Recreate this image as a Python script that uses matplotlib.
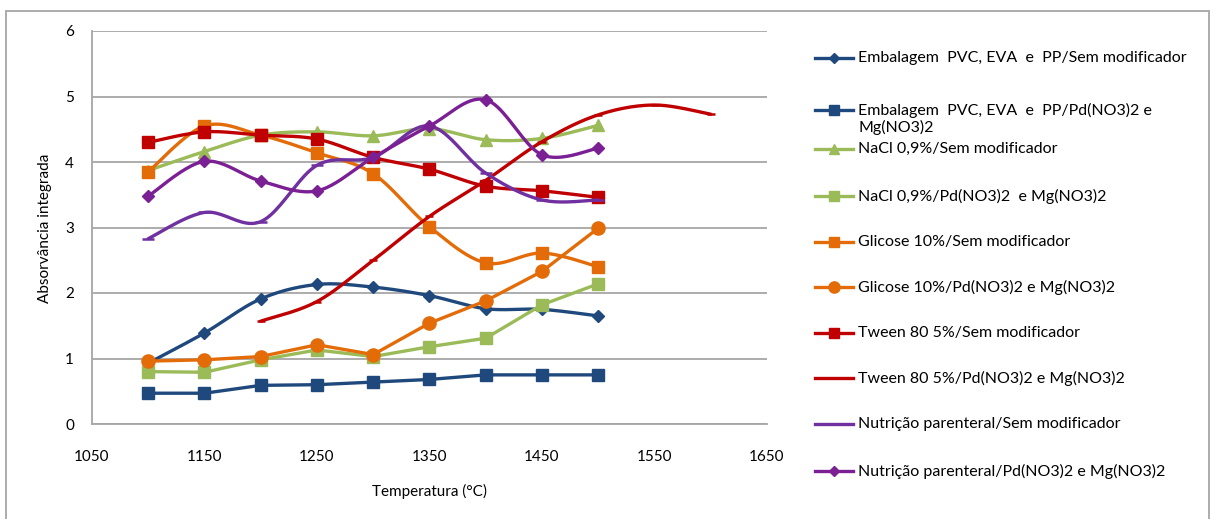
import numpy as np
import matplotlib.pyplot as plt
from matplotlib.lines import Line2D
from matplotlib.patches import Rectangle

plt.rcParams['font.family'] = ['Lato', 'DejaVu Sans']

temps = [1100, 1150, 1200, 1250, 1300, 1350, 1400, 1450, 1500]
temps_tween_pd = [1200, 1250, 1300, 1350, 1400, 1450, 1500, 1550, 1600]

emb_sem = [0.93, 1.39, 1.91, 2.13, 2.09, 1.96, 1.76, 1.75, 1.65]
emb_pd = [0.47, 0.47, 0.59, 0.60, 0.64, 0.68, 0.75, 0.75, 0.75]
nacl_sem = [3.87, 4.16, 4.41, 4.46, 4.40, 4.51, 4.34, 4.36, 4.56]
nacl_pd = [0.80, 0.79, 0.98, 1.13, 1.03, 1.18, 1.31, 1.82, 2.14]
glic_sem = [3.85, 4.55, 4.41, 4.14, 3.82, 3.01, 2.46, 2.61, 2.40]
glic_pd = [0.96, 0.98, 1.03, 1.21, 1.06, 1.54, 1.88, 2.33, 2.99]
tween_sem = [4.30, 4.46, 4.41, 4.35, 4.07, 3.89, 3.63, 3.56, 3.46]
tween_pd = [1.57, 1.87, 2.50, 3.17, 3.72, 4.31, 4.72, 4.87, 4.73]
nutri_sem = [2.83, 3.23, 3.09, 3.95, 4.07, 4.55, 3.83, 3.42, 3.42]
nutri_pd = [3.48, 4.01, 3.71, 3.56, 4.07, 4.55, 4.95, 4.11, 4.21]

labels = [
    'Embalagem  PVC, EVA  e  PP/Sem modificador',
    'Embalagem  PVC, EVA  e  PP/Pd(NO3)2 e\nMg(NO3)2',
    'NaCl 0,9%/Sem modificador',
    'NaCl 0,9%/Pd(NO3)2  e Mg(NO3)2',
    'Glicose 10%/Sem modificador',
    'Glicose 10%/Pd(NO3)2 e Mg(NO3)2',
    'Tween 80 5%/Sem modificador',
    'Tween 80 5%/Pd(NO3)2 e Mg(NO3)2',
    'Nutrição parenteral/Sem modificador',
    'Nutrição parenteral/Pd(NO3)2 e Mg(NO3)2',
]

blue = '#1F497D'
green = '#9BBB59'
orange = '#E36C09'
red = '#C00000'
purple = '#7030A0'
violet = '#7B1F94'

# (x, y, colour, marker, markersize, smoothed)
series = [
    (temps, emb_sem, blue, 'D', 6.5, True),
    (temps, emb_pd, blue, 's', 9, False),
    (temps, nacl_sem, green, '^', 9, True),
    (temps, nacl_pd, green, 's', 9, False),
    (temps, glic_sem, orange, 's', 9, True),
    (temps, glic_pd, orange, 'o', 9.5, False),
    (temps, tween_sem, red, 's', 9, True),
    (temps_tween_pd, tween_pd, red, '_', 6, True),
    (temps, nutri_sem, purple, '_', 8, True),
    (temps, nutri_pd, violet, 'D', 6.5, True),
]


def bezier_smooth(xs, ys, n=24):
    # piecewise cubic bezier through the points, tangents from neighbours
    p = np.column_stack([xs, ys]).astype(float)
    p = np.vstack([p[0], p, p[-1]])
    t = np.linspace(0, 1, n)[:, None]
    parts = []
    for i in range(1, len(p) - 2):
        p0, p1, p2, p3 = p[i - 1], p[i], p[i + 1], p[i + 2]
        c1 = p1 + (p2 - p0) / 6
        c2 = p2 - (p3 - p1) / 6
        seg = ((1 - t) ** 3) * p1 + 3 * (1 - t) ** 2 * t * c1 \
            + 3 * (1 - t) * t ** 2 * c2 + t ** 3 * p2
        parts.append(seg if i == 1 else seg[1:])
    out = np.vstack(parts)
    return out[:, 0], out[:, 1]


fig = plt.figure(figsize=(12.12, 5.19), dpi=100)
ax = fig.add_axes([92 / 1212, 1 - 424 / 519, (767 - 92) / 1212, (424 - 31) / 519])

for x, y, c, m, ms, smooth in series:
    if smooth:
        sx, sy = bezier_smooth(x, y)
    else:
        sx, sy = x, y
    ax.plot(sx, sy, color=c, lw=2.4, solid_capstyle='round', solid_joinstyle='round')
    ax.plot(x, y, linestyle='none', marker=m, ms=ms, color=c, mec=c,
            mew=1.8 if m == '_' else 1)

ax.set_xlim(1050, 1650)
ax.set_ylim(0, 6)
ax.set_xticks(np.arange(1050, 1651, 100))
ax.set_yticks(np.arange(0, 7, 1))
ax.grid(axis='y', color='#A6A6A6', lw=1.3)
ax.set_axisbelow(True)
for s in ['top', 'right']:
    ax.spines[s].set_visible(False)
for s in ['left', 'bottom']:
    ax.spines[s].set_color('#A6A6A6')
    ax.spines[s].set_linewidth(1.3)
ax.tick_params(length=0, labelsize=11, colors='#000000')
ax.tick_params(axis='x', pad=19)
ax.tick_params(axis='y', pad=13)

ax.set_xlabel('Temperatura (°C)', fontsize=11)
ax.xaxis.set_label_coords((429 - 92) / (767 - 92), -(484 - 424) / (424 - 31))
ax.set_ylabel('Absorvância integrada', fontsize=11)
ax.yaxis.set_label_coords(-(92 - 52) / (767 - 92), (424 - 228) / (424 - 31))

# legend drawn by hand at fixed rows
rows = [58, 110, 149, 196, 242, 287, 333, 378, 424, 471]
W, H = 1212, 519
for (x, y, c, m, ms, smooth), lab, ry in zip(series, labels, rows):
    fy = 1 - ry / H
    fig.add_artist(Line2D([815 / W, 853 / W], [fy, fy], color=c, lw=2.4,
                          transform=fig.transFigure))
    fig.add_artist(Line2D([834 / W], [fy], marker=m, ms=ms * 0.85, color=c,
                          mec=c, mew=1.8 if m == '_' else 1, linestyle='none',
                          transform=fig.transFigure))
    if '\n' in lab:
        fig.text(858 / W, 1 - (ry + 9) / H, lab, fontsize=11.5, va='center',
                 ha='left', linespacing=1.1)
    else:
        fig.text(858 / W, fy, lab, fontsize=11.5, va='center', ha='left')

fig.add_artist(Rectangle((6 / W, -0.02), (1209 - 6) / W, 1.02 - 11 / H,
                         fill=False, ec='#A6A6A6', lw=1.3,
                         transform=fig.transFigure))

fig.savefig('out.png', dpi=100)
